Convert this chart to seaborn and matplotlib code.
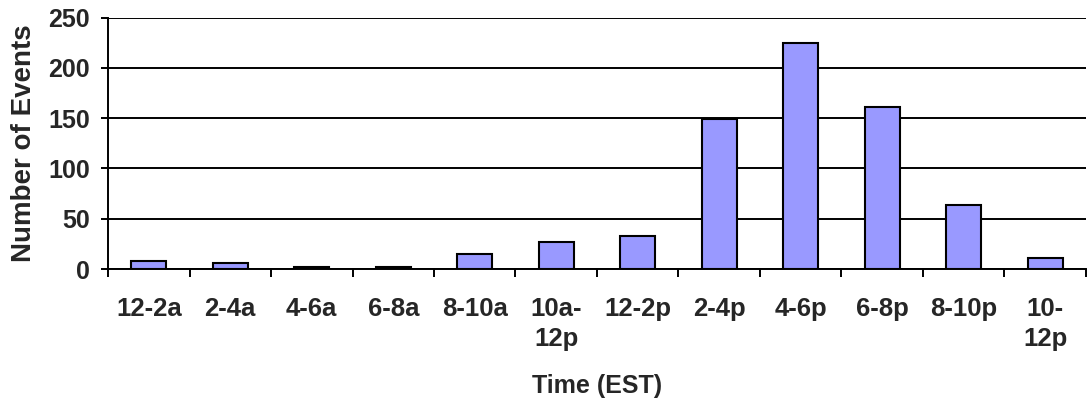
import matplotlib
matplotlib.use("Agg")
import matplotlib.pyplot as plt
import pandas as pd
import seaborn as sns
import numpy as np

time_slots = ["12-2a", "2-4a", "4-6a", "6-8a", "8-10a", "10a-\n12p",
              "12-2p", "2-4p", "4-6p", "6-8p", "8-10p", "10-\n12p"]
event_counts = [8, 6, 2, 2, 15, 27, 33, 149, 225, 161, 64, 11]

df = pd.DataFrame({"slot": time_slots, "events": event_counts})

sns.set_style("white")
plt.rcParams["font.family"] = ["Liberation Sans", "DejaVu Sans"]
plt.rcParams["font.weight"] = "bold"

fig = plt.figure(figsize=(10.89, 4.07), dpi=100)
ax = fig.add_axes([0.0992, 0.339, 0.898, 0.618])

sns.barplot(data=df, x="slot", y="events", color="#9999FF", width=0.43,
            edgecolor="black", linewidth=1.5, saturation=1, ax=ax)

ax.set_ylim(0, 250)
ax.set_xlim(-0.5, len(time_slots) - 0.5)
ax.set_yticks(range(0, 251, 50))
ax.yaxis.grid(True, color="black", linewidth=1.4)
ax.set_axisbelow(True)
for b in ax.patches:
    b.set_zorder(3)

for side in ["top", "right"]:
    ax.spines[side].set_visible(False)
for side in ["left", "bottom"]:
    ax.spines[side].set_linewidth(1.4)
    ax.spines[side].set_color("black")

ax.set_xticks(np.arange(len(time_slots)))
ax.set_xticklabels(time_slots, fontsize=18.5, fontweight="bold", linespacing=1.35)
ax.set_xticks(np.arange(len(time_slots) + 1) - 0.5, minor=True)
ax.tick_params(axis="x", which="major", length=0, pad=20)
ax.tick_params(axis="x", which="minor", length=6, width=1.4, color="black",
               direction="out", bottom=True)
ax.tick_params(axis="y", length=5, width=1.4, color="black", direction="out",
               labelsize=18, left=True, pad=8)
for t in ax.get_yticklabels():
    t.set_fontweight("bold")

ax.set_xlabel("Time (EST)", fontsize=18, fontweight="bold", labelpad=16)
ax.set_ylabel("Number of Events", fontsize=20, fontweight="bold", labelpad=8)

fig.savefig("out.png", dpi=100)
